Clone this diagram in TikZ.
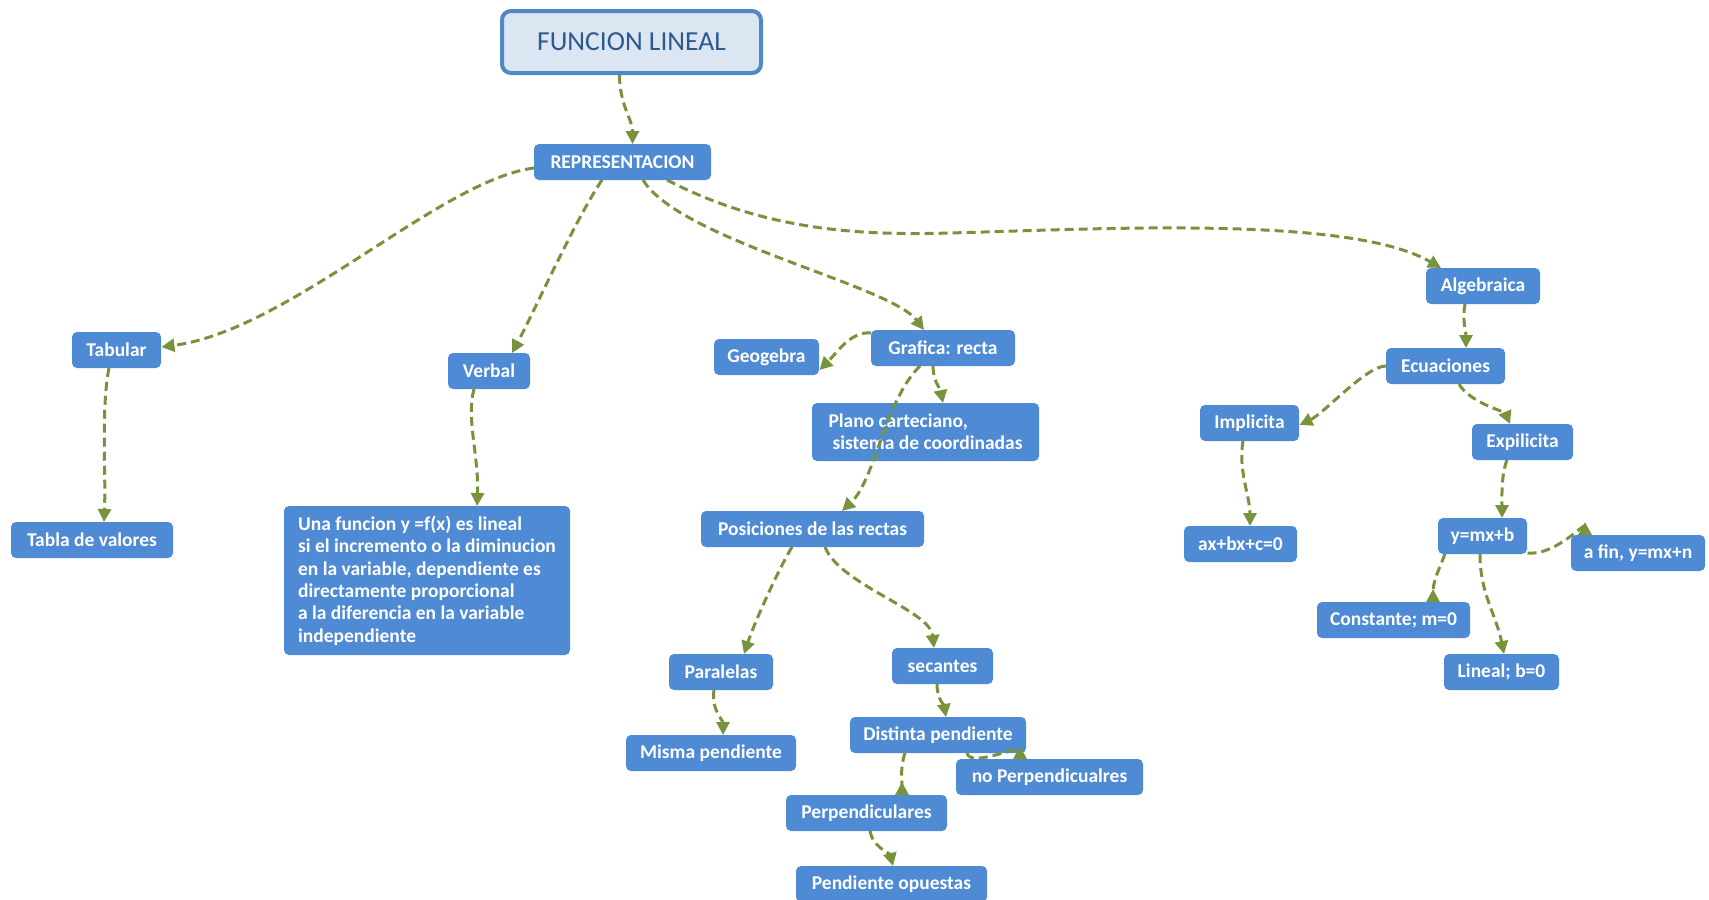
\documentclass[tikz,border=0pt]{standalone}
\usepackage{fontspec}
\setmainfont{Carlito}
\usetikzlibrary{arrows.meta,calc}
\definecolor{boxblue}{RGB}{79,138,212}
\definecolor{lineolive}{RGB}{119,147,60}
\definecolor{titlefill}{RGB}{220,230,242}
\definecolor{titleborder}{RGB}{79,135,199}
\definecolor{titletext}{RGB}{45,90,140}
\begin{document}
\begin{tikzpicture}[x=1pt,y=-1pt,
 bx/.style={fill=boxblue, rounded corners=5pt, text=white, font=\bfseries\fontsize{19.5}{22.4}\selectfont, inner sep=0pt, minimum height=36pt, align=left},
 con/.style={draw=lineolive, line width=3pt, dash pattern=on 9pt off 5pt, -{Triangle[length=13pt,width=13pt]}},
 conr/.style={draw=lineolive, line width=3pt, dash pattern=on 9pt off 5pt, -{Triangle[reversed,length=13pt,width=13pt]}},
]
\fill[white] (0,0) rectangle (1709,900);
\useasboundingbox (0,0) rectangle (1709,900);

% nodes
\node[draw=titleborder, line width=4pt, fill=titlefill, rounded corners=9pt, minimum width=259pt, minimum height=62pt, text=titletext, font=\fontsize{27.5}{30}\selectfont] (fl) at (631.5,42) {FUNCION LINEAL};
\node[bx, minimum width=177pt] (rep) at (622.5,162) {REPRESENTACION};
\node[bx, minimum width=89pt] (tab) at (116.5,350) {Tabular};
\node[bx, minimum width=82pt] (verb) at (489,371) {Verbal};
\node[bx, minimum width=162pt] (tabla) at (92,540) {Tabla de valores};
\node[bx, minimum width=286pt, minimum height=149pt] (una) at (427,580.5) {Una funcion y =f(x) es lineal\\si el incremento o la diminucion\\en la variable, dependiente es\\directamente proporcional\\a la diferencia en la variable\\independiente};
\node[bx, minimum width=105pt] (geo) at (766.5,357) {Geogebra};
\node[bx, minimum width=144pt] (graf) at (943,348) {Grafica: recta};
\node[bx, minimum width=227pt, minimum height=58pt] (plano) at (925.5,432) {Plano carteciano,\\\hspace*{4pt}sistema de coordinadas};
\node[bx, minimum width=223pt] (pos) at (812.5,529) {Posiciones de las rectas};
\node[bx, minimum width=104pt] (par) at (721,672) {Paralelas};
\node[bx, minimum width=101pt] (sec) at (942.5,666) {secantes};
\node[bx, minimum width=170pt] (misma) at (711,753) {Misma pendiente};
\node[bx, minimum width=176pt] (dist) at (938,735) {Distinta pendiente};
\node[bx, minimum width=187pt] (noperp) at (1049.5,777) {no Perpendicualres};
\node[bx, minimum width=161pt] (perp) at (866.5,813) {Perpendiculares};
\node[bx, minimum width=191pt] (pend) at (891.5,884) {Pendiente opuestas};
\node[bx, minimum width=114pt] (alg) at (1483,286) {Algebraica};
\node[bx, minimum width=119pt] (ecu) at (1445.5,366) {Ecuaciones};
\node[bx, minimum width=99pt] (imp) at (1249.5,423) {Implicita};
\node[bx, minimum width=101pt] (expl) at (1522.5,442) {Expilicita};
\node[bx, minimum width=113pt] (ax) at (1240.5,544) {ax+bx+c=0};
\node[bx, minimum width=89pt] (ymx) at (1482.5,536) {y=mx+b};
\node[bx, minimum width=134pt] (afin) at (1638,553) {a fin, y=mx+n};
\node[bx, minimum width=153pt] (const) at (1393.5,620) {Constante; m=0};
\node[bx, minimum width=115pt] (lin) at (1501.5,672) {Lineal; b=0};

% connectors
\draw[con] ([shift={(-12,33)}]fl.center) .. controls +(0,30) and +(0,-25) .. ([shift={(10,-18)}]rep.center);
\draw[con] ([shift={(-88.5,6)}]rep.center) .. controls (440,180) and (290,330) .. ([shift={(45,-3)}]tab.center);
\draw[con] ([shift={(-20.5,18)}]rep.center) .. controls (575,220) and (535,310) .. ([shift={(23,-18)}]verb.center);
\draw[con] ([shift={(20.5,18)}]rep.center) .. controls (680,240) and (890,285) .. ([shift={(-19,-18)}]graf.center);
\draw[con] ([shift={(44.5,18)}]rep.center) .. controls (760,228) and (850,236) .. (950,233) .. controls (1100,229) and (1350,215) .. ([shift={(-42,-18)}]alg.center);
\draw[con] ([shift={(-7.5,18)}]tab.center) .. controls +(-8,40) and +(2,-50) .. ([shift={(12,-18)}]tabla.center);
\draw[con] ([shift={(-15,18)}]verb.center) .. controls +(-8,30) and +(2,-50) .. ([shift={(50,-74.5)}]una.center);
\draw[con] ([shift={(-72,-15)}]graf.center) .. controls +(-20,-2) and +(18,-18) .. ([shift={(53,13)}]geo.center);
\draw[con] ([shift={(-10,18)}]graf.center) .. controls +(0,15) and +(-3,-15) .. ([shift={(17.5,-29)}]plano.center);
\draw[con] ([shift={(-23,18)}]graf.center) .. controls (885,400) and (875,480) .. ([shift={(29.5,-18)}]pos.center);
\draw[con] ([shift={(-20.5,18)}]pos.center) .. controls +(-15,25) and +(10,-30) .. ([shift={(23,-18)}]par.center);
\draw[con] ([shift={(12.5,18)}]pos.center) .. controls (840,585) and (930,610) .. ([shift={(-8.5,-18)}]sec.center);
\draw[con] ([shift={(-7,18)}]par.center) .. controls +(-3,20) and +(0,-15) .. ([shift={(12,-18)}]misma.center);
\draw[con] ([shift={(-5.5,18)}]sec.center) .. controls +(0,15) and +(-2,-12) .. ([shift={(8,-18)}]dist.center);
\draw[conr] ([shift={(29,18)}]dist.center) .. controls (970,768) and (1020,745) .. ([shift={(-29.5,-18)}]noperp.center);
\draw[conr] ([shift={(-33,18)}]dist.center) .. controls +(-5,15) and +(0,-15) .. ([shift={(35.5,-18)}]perp.center);
\draw[con] ([shift={(3.5,18)}]perp.center) .. controls +(2,15) and +(-3,-12) .. ([shift={(1.5,-18)}]pend.center);
\draw[con] ([shift={(-18,18)}]alg.center) .. controls +(-3,15) and +(0,-15) .. ([shift={(20.5,-18)}]ecu.center);
\draw[con] ([shift={(-59.5,0)}]ecu.center) .. controls +(-20,0) and +(25,-12) .. ([shift={(50,2)}]imp.center);
\draw[con] ([shift={(13.5,18)}]ecu.center) .. controls +(10,18) and +(-5,-12) .. ([shift={(-12.5,-18)}]expl.center);
\draw[con] ([shift={(-6.5,18)}]imp.center) .. controls +(-5,30) and +(0,-30) .. ([shift={(9.5,-18)}]ax.center);
\draw[con] ([shift={(-15.5,18)}]expl.center) .. controls +(-6,15) and +(0,-20) .. ([shift={(19.5,-18)}]ymx.center);
\draw[conr] ([shift={(45,17)}]ymx.center) .. controls (1555,556) and (1585,522) .. ([shift={(-53,-18)}]afin.center);
\draw[conr] ([shift={(-37.5,18)}]ymx.center) .. controls +(-8,20) and +(0,-20) .. ([shift={(39.5,-18)}]const.center);
\draw[con] ([shift={(-2.5,18)}]ymx.center) .. controls +(0,40) and +(-8,-40) .. ([shift={(2.5,-18)}]lin.center);
\end{tikzpicture}
\end{document}
